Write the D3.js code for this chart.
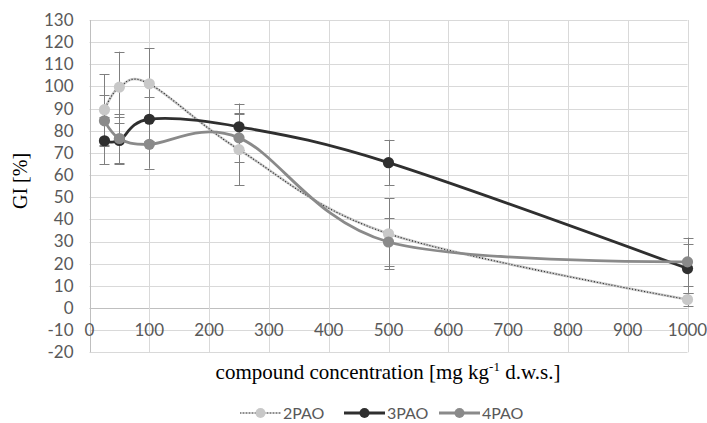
<!DOCTYPE html>
<html>
<head>
<meta charset="utf-8">
<script src="https://cdn.jsdelivr.net/npm/d3@7"></script>
<style>
  body { margin: 0; background: #fff; }
  svg { display: block; }
</style>
</head>
<body>
<div id="chart"></div>
<script>
// concentrations on the x axis [mg kg-1 d.w.s.]
const concentrations = [25, 50, 100, 250, 500, 1000]
const seriesNames = ["2PAO", "3PAO", "4PAO"]

// GI [%] values and error bar half widths
const gi2PAO = [89.5, 99.7, 101.2, 71.5, 33.5, 3.8]
const err2PAO = [16, 16, 16, 16, 16, 3]
const gi3PAO = [75.5, 75.6, 85.2, 81.8, 65.6, 17.8]
const err3PAO = [10.5, 10.5, 10, 10.5, 10.3, 11]
const gi4PAO = [84.5, 76.5, 73.9, 76.8, 29.8, 20.8]
const err4PAO = [11.5, 11, 11, 11, 11, 11]

const xTicks = [0, 100, 200, 300, 400, 500, 600, 700, 800, 900, 1000]
const yTicks = [-20, -10, 0, 10, 20, 30, 40, 50, 60, 70, 80, 90, 100, 110, 120, 130]

const W = 707, H = 423
const margin = { top: 20, right: 19.5, bottom: 70.7, left: 89.5 }

const svg = d3.select("#chart").append("svg")
    .attr("width", W)
    .attr("height", H)

const x = d3.scaleLinear().domain([0, 1000]).range([margin.left, W - margin.right])
const y = d3.scaleLinear().domain([-20, 130]).range([H - margin.bottom, margin.top])

// grid
svg.append("g").selectAll("line")
    .data(yTicks)
    .join("line")
    .attr("x1", x(0)).attr("x2", x(1000))
    .attr("y1", d => Math.round(y(d)) + 0.5).attr("y2", d => Math.round(y(d)) + 0.5)
    .attr("stroke", d => d === 0 ? "#bfbfbf" : "#d9d9d9")
    .attr("stroke-width", 1)

svg.append("g").selectAll("line")
    .data(xTicks)
    .join("line")
    .attr("x1", d => Math.round(x(d)) + 0.5).attr("x2", d => Math.round(x(d)) + 0.5)
    .attr("y1", y(130)).attr("y2", y(-20))
    .attr("stroke", d => d === 0 ? "#bfbfbf" : "#d9d9d9")
    .attr("stroke-width", 1)

// tick labels
svg.append("g").selectAll("text")
    .data(yTicks)
    .join("text")
    .attr("x", x(0) - 16)
    .attr("y", d => y(d))
    .attr("dy", "0.35em")
    .attr("text-anchor", "end")
    .attr("font-family", "Lato, 'Open Sans', sans-serif")
    .attr("font-size", 17)
    .attr("fill", "#595959")
    .text(d => d)

svg.append("g").selectAll("text")
    .data(xTicks)
    .join("text")
    .attr("x", d => x(d))
    .attr("y", y(-10))
    .attr("dy", "0.35em")
    .attr("text-anchor", "middle")
    .attr("font-family", "Lato, 'Open Sans', sans-serif")
    .attr("font-size", 17)
    .attr("fill", "#595959")
    .text(d => d)

// axis titles
svg.append("text")
    .attr("transform", "translate(20,181) rotate(-90)")
    .attr("text-anchor", "middle")
    .attr("dy", "0.35em")
    .attr("font-family", "'Liberation Serif', 'Times New Roman', serif")
    .attr("font-size", 20)
    .attr("fill", "#000")
    .text("GI [%]")

const xTitle = svg.append("text")
    .attr("x", 388)
    .attr("y", 379)
    .attr("text-anchor", "middle")
    .attr("font-family", "'Liberation Serif', 'Times New Roman', serif")
    .attr("font-size", 21)
    .attr("fill", "#000")
xTitle.append("tspan").text("compound concentration [mg kg")
xTitle.append("tspan").attr("font-size", 13).attr("dy", -8).text("-1")
xTitle.append("tspan").attr("dy", 8).text(" d.w.s.]")

// series definitions
const series = [
    { name: seriesNames[0], values: gi2PAO, errs: err2PAO, color: "#c8c8c8", dotted: true },
    { name: seriesNames[1], values: gi3PAO, errs: err3PAO, color: "#2f2f2f", dotted: false },
    { name: seriesNames[2], values: gi4PAO, errs: err4PAO, color: "#8a8a8a", dotted: false }
]

series.forEach(s => {
    s.points = concentrations.map((c, i) => ({ c: c, v: s.values[i], e: s.errs[i] }))
})

// error bars
const capHalf = 5
series.forEach(s => {
    const g = svg.append("g").attr("stroke", "#7f7f7f").attr("stroke-width", 1)
    s.points.forEach(p => {
        const px = Math.round(x(p.c)) + 0.5
        g.append("line").attr("x1", px).attr("x2", px).attr("y1", y(p.v - p.e)).attr("y2", y(p.v + p.e))
        g.append("line").attr("x1", px - capHalf).attr("x2", px + capHalf)
            .attr("y1", Math.round(y(p.v + p.e)) + 0.5).attr("y2", Math.round(y(p.v + p.e)) + 0.5)
        g.append("line").attr("x1", px - capHalf).attr("x2", px + capHalf)
            .attr("y1", Math.round(y(p.v - p.e)) + 0.5).attr("y2", Math.round(y(p.v - p.e)) + 0.5)
    })
})

// smoothed lines (excel style)
const line = d3.line()
    .x(d => x(d.c))
    .y(d => y(d.v))
    .curve(d3.curveCardinal.tension(0))

series.forEach(s => {
    svg.append("path")
        .datum(s.points)
        .attr("d", line)
        .attr("fill", "none")
        .attr("stroke", s.color)
        .attr("stroke-width", s.dotted ? 2.5 : 2.8)
    if (s.dotted) {
        svg.append("path")
            .datum(s.points)
            .attr("d", line)
            .attr("fill", "none")
            .attr("stroke", "#1a1a1a")
            .attr("stroke-width", 1.1)
            .attr("stroke-dasharray", "1,2")
    }
    svg.append("g").selectAll("circle")
        .data(s.points)
        .join("circle")
        .attr("cx", d => x(d.c))
        .attr("cy", d => y(d.v))
        .attr("r", 5.6)
        .attr("fill", s.color)
})

// legend
const legendX = [240, 344, 439]
const legend = svg.append("g")
series.forEach((s, i) => {
    const lg = legend.append("g").attr("transform", "translate(" + legendX[i] + ",413)")
    lg.append("line").attr("x1", 0).attr("x2", 41).attr("y1", 0).attr("y2", 0)
        .attr("stroke", s.color).attr("stroke-width", s.dotted ? 2 : 2.8)
    if (s.dotted) {
        lg.append("line").attr("x1", 0).attr("x2", 41).attr("y1", 0).attr("y2", 0)
            .attr("stroke", "#555").attr("stroke-width", 1).attr("stroke-dasharray", "1,2")
    }
    lg.append("circle").attr("cx", 20.5).attr("cy", 0).attr("r", 5).attr("fill", s.color)
    lg.append("text")
        .attr("x", 43)
        .attr("y", 0)
        .attr("dy", "0.35em")
        .attr("font-family", "Lato, 'Open Sans', sans-serif")
        .attr("font-size", 16)
        .attr("fill", "#595959")
        .text(s.name)
})
</script>
</body>
</html>
